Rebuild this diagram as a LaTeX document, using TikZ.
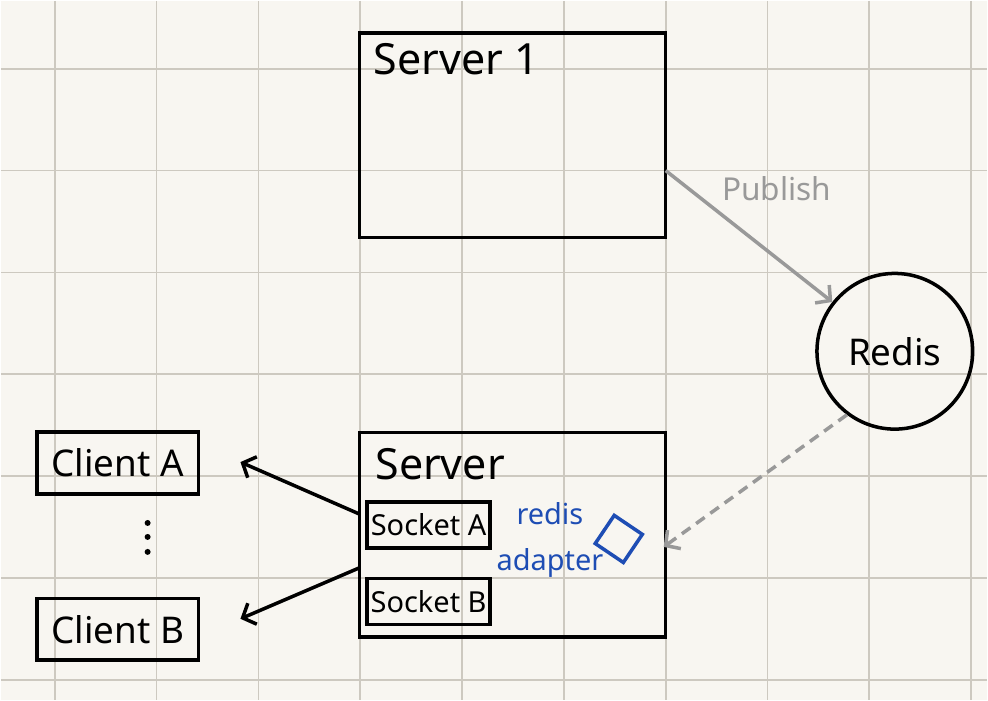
\documentclass[tikz,border=0pt]{standalone}
\usepackage{fontspec}
\setmainfont{Noto Sans}
\usetikzlibrary{arrows.meta}

\definecolor{paper}{HTML}{F8F6F1}
\definecolor{gridline}{HTML}{CDC9C0}
\definecolor{pubgray}{HTML}{999999}
\definecolor{adblue}{HTML}{1E4DB4}

\begin{document}
\begin{tikzpicture}[
    x=0.02cm, y=-0.02cm,
    arrow/.style={draw, line width=2pt, ->, >={Straight Barb[length=6pt,width=13pt]}},
    box/.style={rectangle, draw=black, line width=2pt, inner sep=0pt},
    server/.style={box, minimum width=6.14cm, minimum height=4.1cm},
    client/.style={box, minimum width=3.24cm, minimum height=1.24cm, font=\fontsize{21}{24}\selectfont},
    socket/.style={box, minimum width=2.46cm, minimum height=0.92cm, font=\fontsize{16.5}{18}\selectfont},
    title/.style={anchor=north west, inner sep=0pt, font=\fontsize{24.5}{28}\selectfont}
  ]
  % paper and grid
  \fill[paper] (0,0) rectangle (988,700);
  \foreach \x in {54,156,...,972} \draw[gridline, line width=1pt] (\x,0) -- (\x,700);
  \foreach \y in {68,170,...,680} \draw[gridline, line width=1pt] (0,\y) -- (988,\y);

  % servers
  \node (srv1) [server] at (512.5,134.5) {};
  \node (srv1title) [title] at ([xshift=9pt,yshift=-7pt]srv1.north west) {Server 1};
  \node (srv) [server] at (512.5,535) {};
  \node (srvtitle) [title] at ([xshift=10pt,yshift=-10pt]srv.north west) {Server};
  \node (sockA) [socket] at (428.5,525) {Socket A};
  \node (sockB) [socket] at (428.5,601.5) {Socket B};

  % redis and adapter
  \node (redis) [circle, draw=black, line width=2pt, minimum size=3.12cm, font=\fontsize{21}{24}\selectfont] at (895.5,351) {Redis};
  \node (adapter) [rectangle, draw=adblue, line width=2pt, minimum size=0.68cm, inner sep=0pt, rotate=-34] at (619,539) {};
  \node (adtext) [adblue, align=center, font=\fontsize{16.5}{26}\selectfont] at (550,540) {redis\\adapter};

  % clients
  \node (clA) [client] at (117,463) {Client A};
  \node (clB) [client] at (117,629.5) {Client B};
  \foreach \y in {523,537,552} \fill (147,\y) circle (1.7pt);

  \coordinate (outA) at (359,514);
  \coordinate (tipA) at (240,462);
  \coordinate (outB) at (359,568);
  \coordinate (tipB) at (240,619);
  \coordinate (pubout) at (666,170);
  \coordinate (adin) at (664,547);

  \node (pub) [pubgray, font=\fontsize{18}{20}\selectfont] at (777,188) {Publish};

  \begin{scope}[every path/.style=arrow]
    \path (outA) -- (tipA);
    \path (outB) -- (tipB);
    \path[pubgray] (pubout) -- (redis);
    \path[pubgray, dash pattern=on 6pt off 4pt] (redis.233) -- (adin);
  \end{scope}
\end{tikzpicture}
\end{document}
